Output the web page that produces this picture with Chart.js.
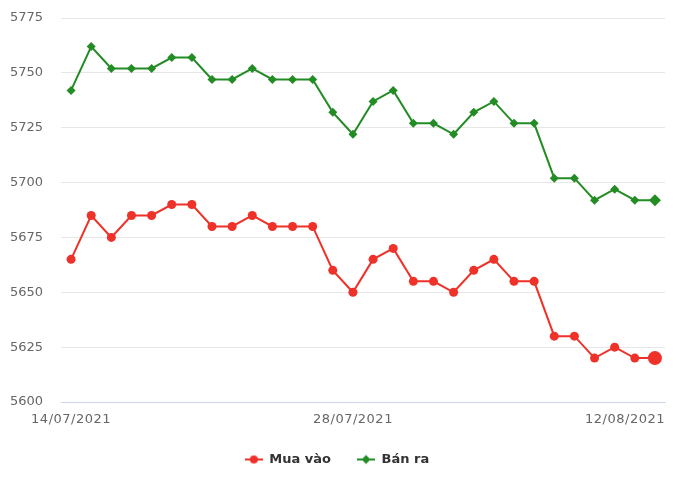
<!DOCTYPE html>
<html>
<head>
<meta charset="utf-8">
<script src="https://cdn.jsdelivr.net/npm/chart.js@4"></script>
<style>
  html, body { margin: 0; padding: 0; background: #fff; }
  #wrap { width: 680px; height: 485px; position: relative; }
</style>
</head>
<body>
<div id="wrap"><canvas id="gold-chart"></canvas></div>
<script>
// Ngày (14/07/2021 -> 12/08/2021)
const dates = [
    '14/07/2021', '15/07/2021', '16/07/2021', '17/07/2021', '18/07/2021', '19/07/2021',
    '20/07/2021', '21/07/2021', '22/07/2021', '23/07/2021', '24/07/2021', '25/07/2021',
    '26/07/2021', '27/07/2021', '28/07/2021', '29/07/2021', '30/07/2021', '31/07/2021',
    '01/08/2021', '02/08/2021', '03/08/2021', '04/08/2021', '05/08/2021', '06/08/2021',
    '07/08/2021', '08/08/2021', '09/08/2021', '10/08/2021', '11/08/2021', '12/08/2021'
];

// Giá mua vào / bán ra
const buyPrices = [
    5665, 5685, 5675, 5685, 5685, 5690, 5690, 5680, 5680, 5685,
    5680, 5680, 5680, 5660, 5650, 5665, 5670, 5655, 5655, 5650,
    5660, 5665, 5655, 5655, 5630, 5630, 5620, 5625, 5620, 5620
];
const sellPrices = [
    5742, 5762, 5752, 5752, 5752, 5757, 5757, 5747, 5747, 5752,
    5747, 5747, 5747, 5732, 5722, 5737, 5742, 5727, 5727, 5722,
    5732, 5737, 5727, 5727, 5702, 5702, 5692, 5697, 5692, 5692
];

// Nhãn trục x hiển thị
const tickLabels = ['14/07/2021', '28/07/2021', '12/08/2021'];

const RED = '#ee3129';
const GREEN = '#248c24';
const FONT = '"DejaVu Sans", sans-serif';

// last point is shown highlighted (bigger marker)
function radii(n, normal, last) {
    return dates.map((d, i) => i === n - 1 ? last : normal);
}

// legend icon: short line with marker in the middle
function legendIcon(color, shape) {
    const c = document.createElement('canvas');
    c.width = 18; c.height = 12;
    const g = c.getContext('2d');
    g.strokeStyle = color;
    g.lineWidth = 2;
    g.beginPath(); g.moveTo(0, 6); g.lineTo(18, 6); g.stroke();
    g.fillStyle = color;
    g.beginPath();
    if (shape === 'circle') {
        g.arc(9, 6, 4, 0, Math.PI * 2);
    } else {
        g.moveTo(9, 1.5); g.lineTo(13.5, 6); g.lineTo(9, 10.5); g.lineTo(4.5, 6); g.closePath();
    }
    g.fill();
    return c;
}

// x labels drawn by hand so the last one stays inside the canvas
const xLabelsPlugin = {
    id: 'xLabels',
    afterDraw(chart) {
        const ctx = chart.ctx;
        const x = chart.scales.x;
        const area = chart.chartArea;
        ctx.save();
        ctx.font = '13px ' + FONT;
        ctx.fillStyle = '#666';
        ctx.textBaseline = 'middle';
        if ('letterSpacing' in ctx) ctx.letterSpacing = '0.5px';
        tickLabels.forEach(label => {
            const px = x.getPixelForValue(dates.indexOf(label));
            const w = ctx.measureText(label).width;
            let left = px - w / 2;
            if (left + w > area.right) left = area.right - w;
            ctx.textAlign = 'left';
            ctx.fillText(label, left, area.bottom + 18);
        });
        ctx.restore();
    }
};

function initChart() {
    const ctx = document.getElementById('gold-chart').getContext('2d');
    new Chart(ctx, {
        type: 'line',
        data: {
            labels: dates,
            datasets: [{
                label: 'Mua vào',
                data: buyPrices,
                borderColor: RED,
                backgroundColor: RED,
                borderWidth: 2,
                pointStyle: 'circle',
                pointRadius: radii(dates.length, 4.5, 7),
                pointBorderWidth: 0,
                tension: 0
            }, {
                label: 'Bán ra',
                data: sellPrices,
                borderColor: GREEN,
                backgroundColor: GREEN,
                borderWidth: 2,
                pointStyle: 'rectRot',
                pointRadius: radii(dates.length, 4.5, 6),
                pointBorderWidth: 0,
                tension: 0
            }]
        },
        options: {
            responsive: true,
            maintainAspectRatio: false,
            animation: false,
            layout: {
                autoPadding: false,
                padding: { left: 9, right: 15, top: 18, bottom: 9 }
            },
            scales: {
                x: {
                    type: 'category',
                    offset: true,
                    grid: { display: false },
                    border: { display: true, color: '#ccd6eb', width: 1 },
                    ticks: { display: false },
                    afterFit(scale) { scale.height = 25; }
                },
                y: {
                    min: 5600,
                    max: 5775,
                    ticks: {
                        stepSize: 25,
                        padding: 18,
                        color: '#666',
                        font: { family: FONT, size: 13 },
                        callback: value => String(value)
                    },
                    grid: { color: '#e6e6e6', drawTicks: false },
                    border: { display: false },
                    afterFit(scale) {
                        scale.width = 52;
                        scale.paddingTop = 0;
                        scale.paddingBottom = 0;
                    }
                }
            },
            plugins: {
                legend: {
                    position: 'bottom',
                    labels: {
                        usePointStyle: true,
                        pointStyleWidth: 18,
                        padding: 26,
                        color: '#333',
                        font: { family: FONT, size: 13, weight: 'bold' },
                        generateLabels(chart) {
                            return chart.data.datasets.map((ds, i) => ({
                                text: ds.label,
                                fontColor: '#333',
                                pointStyle: legendIcon(ds.borderColor, i === 0 ? 'circle' : 'diamond'),
                                datasetIndex: i,
                                hidden: false,
                                lineWidth: 0
                            }));
                        }
                    }
                },
                tooltip: { enabled: false }
            }
        },
        plugins: [xLabelsPlugin]
    });
}

document.addEventListener('DOMContentLoaded', function() {
    initChart();
});
</script>
</body>
</html>
